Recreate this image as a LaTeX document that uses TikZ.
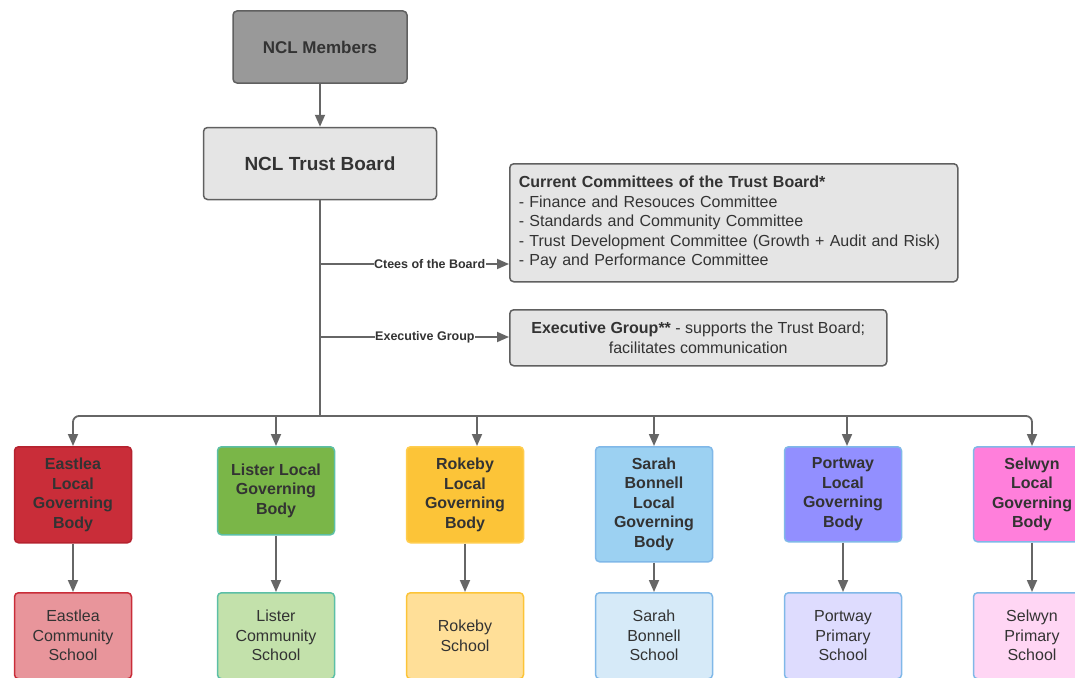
\documentclass[tikz,border=0pt]{standalone}
\usepackage{fontspec}
\setmainfont{Liberation Sans}
\usetikzlibrary{positioning}
\usetikzlibrary{arrows.meta}

\definecolor{txtgrey}{HTML}{333333}
\definecolor{linegrey}{HTML}{666666}
\definecolor{edgegrey}{HTML}{606060}
\definecolor{membersgrey}{HTML}{999999}
\definecolor{boardgrey}{HTML}{E5E5E5}
\definecolor{eastleared}{HTML}{C92D39}
\definecolor{eastleaedge}{HTML}{B5232F}
\definecolor{eastleapale}{HTML}{E8959B}
\definecolor{listergreen}{HTML}{7AB648}
\definecolor{listeredge}{HTML}{5CBFA6}
\definecolor{listerpale}{HTML}{C3E1AB}
\definecolor{rokebyyellow}{HTML}{FCC438}
\definecolor{rokebyedge}{HTML}{FFCD4E}
\definecolor{rokebypale}{HTML}{FFDF98}
\definecolor{sarahblue}{HTML}{9CD1F2}
\definecolor{blueedge}{HTML}{80B8E8}
\definecolor{sarahpale}{HTML}{D6EAF8}
\definecolor{portwayviolet}{HTML}{928FFF}
\definecolor{portwaypale}{HTML}{DEDCFE}
\definecolor{selwynpink}{HTML}{FF7FDB}
\definecolor{selwynpale}{HTML}{FFD6F4}

\begin{document}
\begin{tikzpicture}[x=1pt,y=-1pt,
    >={Triangle[length=12pt,width=10pt]},
    basic/.style={draw,rounded corners=4pt,line width=1.5pt,text=txtgrey,align=center},
    lgb/.style={basic,font=\bfseries\fontsize{16}{19.5}\selectfont,minimum width=117pt,inner sep=0pt,anchor=north},
    school/.style={basic,font=\fontsize{16}{19.5}\selectfont,minimum width=117pt,minimum height=86pt,inner sep=0pt,anchor=north},
    link/.style={draw=linegrey,line width=1.8pt},
    tag/.style={fill=white,text=txtgrey,inner sep=0.5pt,font=\bfseries\fontsize{12.5}{14}\selectfont},
]
\useasboundingbox (0,0) rectangle (1075,677);
\clip (0,0) rectangle (1075,677);

% top of the trust
\node[basic,fill=membersgrey,draw=edgegrey,minimum width=174pt,minimum height=72pt,
      font=\bfseries\fontsize{17}{20}\selectfont] (members) at (320,47) {NCL Members};
\node[basic,fill=boardgrey,draw=edgegrey,minimum width=233pt,minimum height=72pt,
      font=\bfseries\fontsize{19}{22}\selectfont,below=43pt of members] (board) {NCL Trust Board};
    \draw[link,->] (members) -- (board);

% committees and executive
\node[basic,fill=boardgrey,draw=edgegrey,anchor=north west,text width=430pt,align=left,
      inner xsep=9pt,minimum height=118pt,font=\fontsize{16}{19.5}\selectfont] (ctees) at (509,163)
      {\textbf{Current Committees of the Trust Board*}\\
       - Finance and Resouces Committee\\
       - Standards and Community Committee\\
       - Trust Development Committee (Growth + Audit and Risk)\\
       - Pay and Performance Committee};
\node[basic,fill=boardgrey,draw=edgegrey,anchor=north west,minimum width=377pt,minimum height=56pt,
      font=\fontsize{16}{19.5}\selectfont] (exec) at (509,309)
      {\textbf{Executive Group**} - supports the Trust Board;\\facilitates communication};

\coordinate (cteesfork) at (320,264);
\coordinate (execfork) at (320,337);
\coordinate (bus) at (320,416);
    \draw[link] (board.south) -- (bus);
    \draw[link,->] (cteesfork) -- node[tag,pos=0.58]{Ctees of the Board} (cteesfork -| ctees.west);
    \draw[link,->] (execfork) -- node[tag,pos=0.555]{Executive Group} (execfork -| exec.west);

% local governing bodies
\node[lgb,fill=eastleared,draw=eastleaedge,minimum height=96pt] (eastleaLGB) at (73,446) {Eastlea\\Local\\Governing\\Body};
\node[lgb,fill=listergreen,draw=listeredge,minimum height=88pt] (listerLGB) at (276,446) {Lister Local\\Governing\\Body};
\node[lgb,fill=rokebyyellow,draw=rokebyedge,minimum height=96pt] (rokebyLGB) at (465,446) {Rokeby\\Local\\Governing\\Body};
\node[lgb,fill=sarahblue,draw=blueedge,minimum height=115pt] (sarahLGB) at (654,446) {Sarah\\Bonnell\\Local\\Governing\\Body};
\node[lgb,fill=portwayviolet,draw=blueedge,minimum height=95pt] (portwayLGB) at (843,446) {Portway\\Local\\Governing\\Body};
\node[lgb,fill=selwynpink,draw=blueedge,minimum height=95pt] (selwynLGB) at (1032,446) {Selwyn\\Local\\Governing\\Body};

    \draw[link,->,rounded corners=6pt] (bus) -| (eastleaLGB.north);
    \draw[link,->] (bus) -| (listerLGB.north);
    \draw[link,->] (bus) -| ([xshift=12pt]rokebyLGB.north);
    \draw[link,->] (bus) -| (sarahLGB.north);
    \draw[link,->] (bus) -| ([xshift=4pt]portwayLGB.north);
    \draw[link,->,rounded corners=6pt] (bus) -| (selwynLGB.north);

% schools
\node[school,fill=eastleapale,draw=eastleared] (eastleaSch) at (73,592) {Eastlea\\Community\\School};
\node[school,fill=listerpale,draw=listeredge] (listerSch) at (276,592) {Lister\\Community\\School};
\node[school,fill=rokebypale,draw=rokebyyellow] (rokebySch) at (465,592) {Rokeby\\School};
\node[school,fill=sarahpale,draw=blueedge] (sarahSch) at (654,592) {Sarah\\Bonnell\\School};
\node[school,fill=portwaypale,draw=blueedge] (portwaySch) at (843,592) {Portway\\Primary\\School};
\node[school,fill=selwynpale,draw=blueedge] (selwynSch) at (1032,592) {Selwyn\\Primary\\School};

    \draw[link,->] (eastleaLGB) -- (eastleaSch);
    \draw[link,->] (listerLGB) -- (listerSch);
    \draw[link,->] (rokebyLGB) -- (rokebySch);
    \draw[link,->] (sarahLGB) -- (sarahSch);
    \draw[link,->] (portwayLGB) -- (portwaySch);
    \draw[link,->] (selwynLGB) -- (selwynSch);
\end{tikzpicture}
\end{document}
